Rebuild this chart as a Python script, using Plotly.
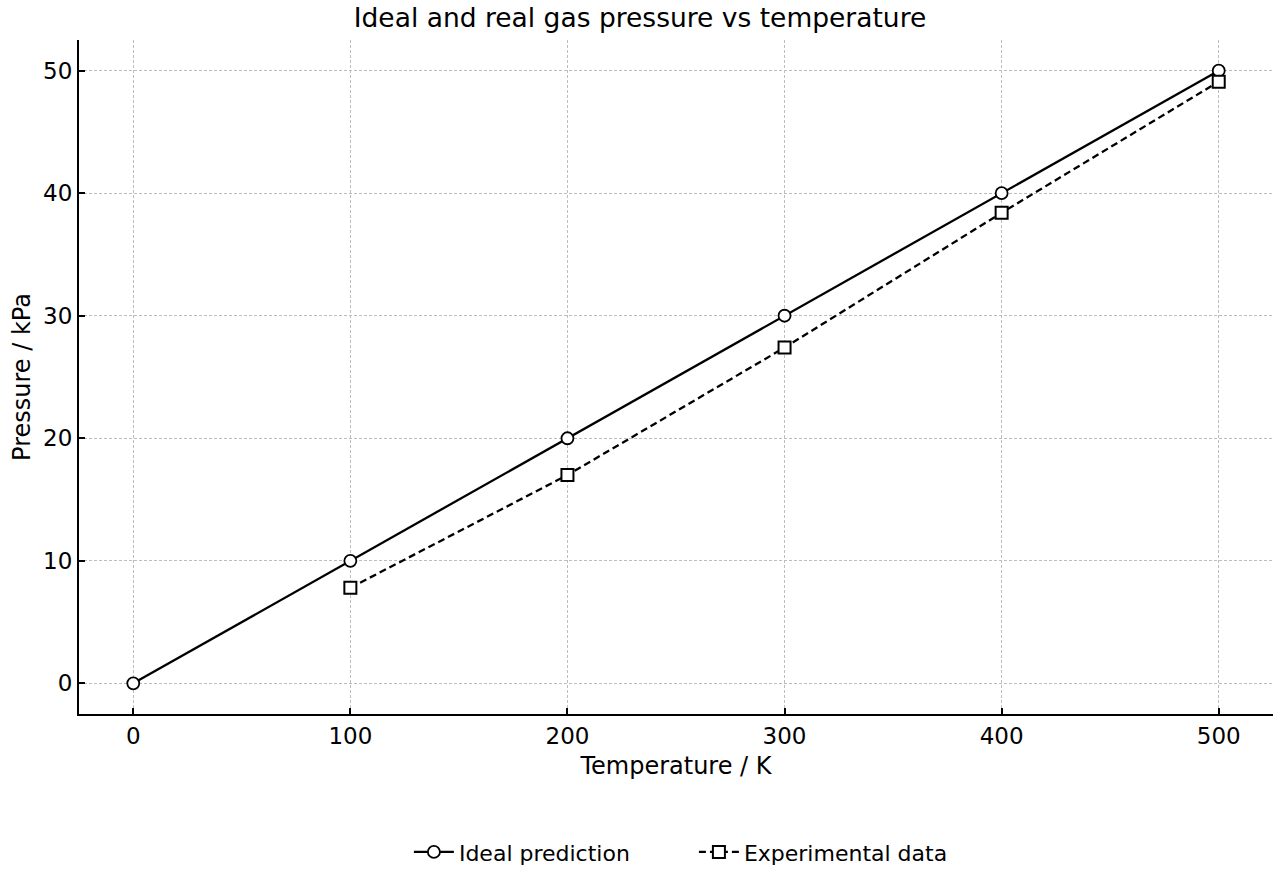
import plotly.graph_objects as go

temp_ideal = [0, 100, 200, 300, 400, 500]
p_ideal = [0, 10, 20, 30, 40, 50]
temp_exp = [100, 200, 300, 400, 500]
p_exp = [7.8, 17.0, 27.4, 38.4, 49.1]

fig = go.Figure()
fig.add_trace(go.Scatter(
    x=temp_ideal, y=p_ideal, mode="lines+markers", name="Ideal prediction",
    line=dict(color="black", width=2.3),
    marker=dict(symbol="circle", size=12, color="white", line=dict(color="black", width=1.8)),
))
fig.add_trace(go.Scatter(
    x=temp_exp, y=p_exp, mode="lines+markers", name="Experimental data",
    line=dict(color="black", width=2.3, dash="7px,4px"),
    marker=dict(symbol="square", size=12, color="white", line=dict(color="black", width=2)),
))

font = "DejaVu Sans"
fig.update_layout(
    width=1280, height=880,
    margin=dict(l=79, r=7, t=40, b=166),
    paper_bgcolor="white", plot_bgcolor="white",
    font=dict(family=font, size=23, color="black"),
    title=dict(text="Ideal and real gas pressure vs temperature", x=0.5, xanchor="center",
               y=1 - 18/880, yanchor="middle", font=dict(size=26.5)),
    legend=dict(orientation="h", x=0.515, xanchor="center", y=-0.205, yanchor="middle",
                font=dict(size=22), itemwidth=40, entrywidth=230, entrywidthmode="pixels"),
    showlegend=True,
)
fig.update_xaxes(
    range=[-25, 525], tickvals=[0, 100, 200, 300, 400, 500],
    showline=True, linecolor="black", linewidth=2, mirror=False,
    ticks="inside", ticklen=6, tickwidth=1.5, tickcolor="black",
    showgrid=True, gridcolor="#bdbdbd", griddash="3px,2px", gridwidth=1,
    zeroline=False,
    title=dict(text="Temperature / K", font=dict(size=24), standoff=10),
)
fig.update_yaxes(
    range=[-2.5, 52.5], tickvals=[0, 10, 20, 30, 40, 50],
    showline=True, linecolor="black", linewidth=2, mirror=False,
    ticks="inside", ticklen=6, tickwidth=1.5, tickcolor="black",
    showgrid=True, gridcolor="#bdbdbd", griddash="3px,2px", gridwidth=1,
    zeroline=False,
    title=dict(text="Pressure / kPa", font=dict(size=24), standoff=6),
)
fig.write_html("out.html")
